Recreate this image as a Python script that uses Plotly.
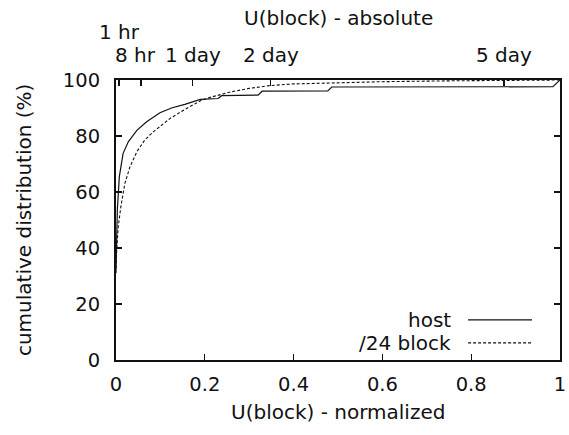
import plotly.graph_objects as go

# ---- data ----
host_x = [0, 0.0015, 0.003, 0.0075, 0.016, 0.028, 0.047, 0.069, 0.099, 0.125,
          0.155, 0.19, 0.23, 0.238, 0.32, 0.329, 0.477, 0.486, 0.984, 1.0]
host_y = [32, 40.5, 53.6, 65.5, 73.8, 78, 82, 85.1, 88.3, 90,
          91.3, 93.1, 93.4, 94.4, 94.6, 96.0, 96.1, 97.5, 97.6, 100]

block_x = [0, 0.0015, 0.005, 0.011, 0.02, 0.0315, 0.047, 0.065, 0.084, 0.107,
           0.122, 0.155, 0.193, 0.212, 0.26, 0.30, 0.347, 0.40, 0.5, 0.6,
           0.75, 0.874, 1.0]
block_y = [31, 39.3, 47.6, 54.8, 63.1, 69, 74.4, 78.6, 81.5, 84.5,
           86.3, 89.5, 92.8, 93.8, 95.8, 97.0, 98.0, 98.6, 99.1, 99.4,
           99.7, 99.85, 100]

series_names = ["host", "/24 block"]

bottom_tickvals = [0, 0.2, 0.4, 0.6, 0.8, 1]
bottom_ticktext = ["0", "0.2", "0.4", "0.6", "0.8", "1"]
y_tickvals = [0, 20, 40, 60, 80, 100]

top_tickvals = [0.007, 0.056, 0.173, 0.348, 0.874]
top_ticktext = ["1 hr", "8 hr", "1 day", "2 day", "5 day"]

FONT = "DejaVu Sans"
FS = 20
INK = "#111111"

fig = go.Figure()
fig.add_trace(go.Scatter(x=host_x, y=host_y, mode="lines", name=series_names[0],
                         line=dict(color=INK, width=1.2), showlegend=False))
fig.add_trace(go.Scatter(x=block_x, y=block_y, mode="lines", name=series_names[1],
                         line=dict(color=INK, width=1.1, dash="3px,2px"),
                         showlegend=False))
# invisible trace to activate the top axis
fig.add_trace(go.Scatter(x=[0, 1], y=[0, 0], xaxis="x2", mode="lines",
                         line=dict(width=0), hoverinfo="skip", showlegend=False,
                         opacity=0))

fig.update_layout(
    width=569, height=435,
    margin=dict(l=116, r=9, t=80, b=75),
    paper_bgcolor="white", plot_bgcolor="white",
    font=dict(family=FONT, size=FS, color=INK),
    xaxis=dict(range=[0, 1], tickvals=bottom_tickvals, ticktext=bottom_ticktext,
               ticks="inside", ticklen=6, tickwidth=1.3, tickcolor=INK,
               showline=True, linecolor=INK, linewidth=2, mirror=False,
               showgrid=False, zeroline=False, ticklabelstandoff=6,
               automargin=False, tickfont=dict(size=19.5)),
    xaxis2=dict(range=[0, 1], overlaying="x", side="top", anchor="y",
                tickvals=top_tickvals, showticklabels=False,
                ticks="inside", ticklen=6, tickwidth=1.3, tickcolor=INK,
                showline=True, linecolor=INK, linewidth=2,
                showgrid=False, zeroline=False, automargin=False),
    yaxis=dict(range=[0, 100], tickvals=y_tickvals,
               ticks="inside", ticklen=6, tickwidth=1.3, tickcolor=INK,
               showline=True, linecolor=INK, linewidth=2, mirror="ticks",
               showgrid=False, zeroline=False, ticklabelstandoff=10,
               automargin=False, tickfont=dict(size=19.5)),
)

annotations = []
# top axis labels (staggered)
row_y = [1.171, 1.09, 1.09, 1.09, 1.09]
xshift = [0, -5, 0, 0, 0]
for v, t, yy, xs in zip(top_tickvals, top_ticktext, row_y, xshift):
    annotations.append(dict(x=v, y=yy, xref="x2", yref="paper", text=t,
                            showarrow=False, xanchor="center", yanchor="middle",
                            xshift=xs, font=dict(family=FONT, size=FS, color=INK)))
# axis titles
annotations.append(dict(x=0.501, y=1.221, xref="paper", yref="paper",
                        text="U(block) - absolute", showarrow=False,
                        xanchor="center", yanchor="middle"))
annotations.append(dict(x=0.501, y=-0.186, xref="paper", yref="paper",
                        text="U(block) - normalized", showarrow=False,
                        xanchor="center", yanchor="middle"))
annotations.append(dict(x=-0.207, y=0.5, xref="paper", yref="paper",
                        text="cumulative distribution (%)", showarrow=False,
                        textangle=-90, xanchor="center", yanchor="middle"))
# legend (gnuplot style: text then sample line)
leg_y = [0.143, 0.061]
for name, yy in zip(series_names, leg_y):
    annotations.append(dict(x=0.759, y=yy, xref="paper", yref="paper", text=name,
                            showarrow=False, xanchor="right", yanchor="middle"))
fig.update_layout(annotations=annotations)

fig.add_shape(type="line", xref="paper", yref="paper", x0=0.793, x1=0.937,
              y0=leg_y[0], y1=leg_y[0], line=dict(color=INK, width=1.2))
fig.add_shape(type="line", xref="paper", yref="paper", x0=0.793, x1=0.937,
              y0=leg_y[1], y1=leg_y[1], line=dict(color=INK, width=1.1, dash="3px,2px"))

# remove the default 8px page margin so the figure fills the window exactly
fig.write_html("out.html",
               config={"displayModeBar": False, "staticPlot": True},
               post_script="document.body.style.margin='0';"
                           "document.body.style.overflow='hidden';")
